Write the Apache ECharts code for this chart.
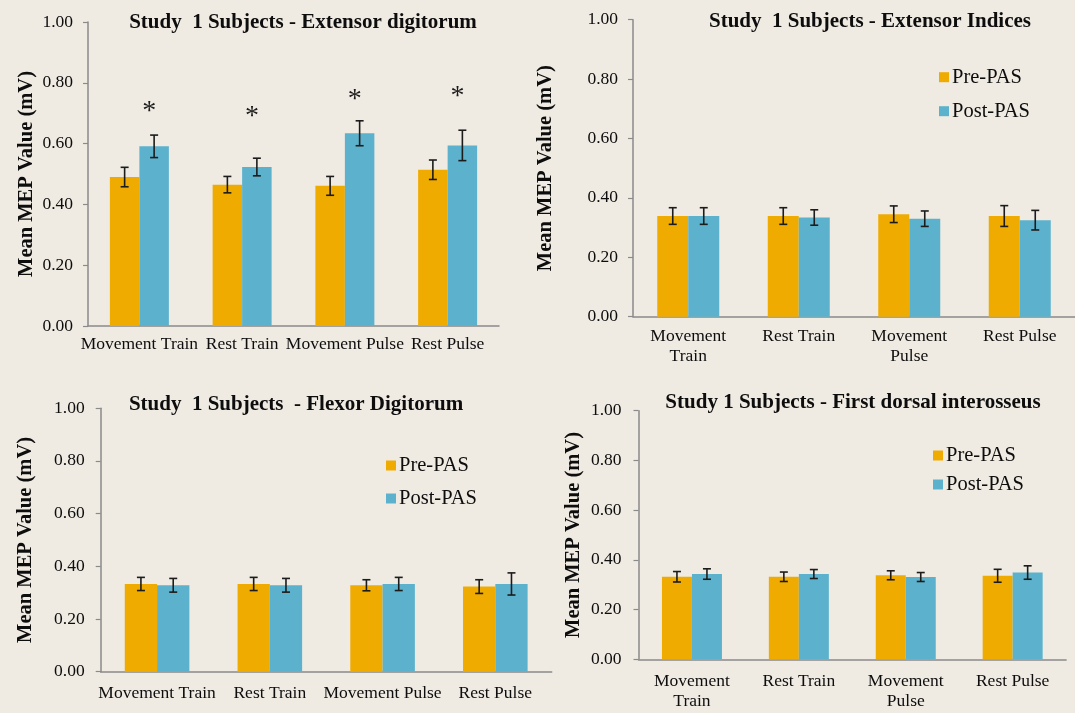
<!DOCTYPE html>
<html>
<head>
<meta charset="utf-8">
<title>Study 1 Subjects - Mean MEP Values</title>
<script src="https://cdn.jsdelivr.net/npm/echarts@6/dist/echarts.min.js"></script>
<style>
  html, body { margin: 0; padding: 0; background: #efebe3; }
  #chart { width: 1075px; height: 713px; }
</style>
</head>
<body>
<div id="chart"></div>
<script>
// Conditions (x-axis categories)
const categories = ['Movement Train', 'Rest Train', 'Movement Pulse', 'Rest Pulse'];
const categoriesWrapped = ['Movement\nTrain', 'Rest Train', 'Movement\nPulse', 'Rest Pulse'];

// Y-axis ticks (mV)
const yMin = 0, yMax = 1, yStep = 0.2;

// Extensor digitorum
const edPre      = [0.490, 0.465, 0.461, 0.514];
const edPreErr   = [0.032, 0.027, 0.031, 0.032];
const edPost     = [0.591, 0.523, 0.634, 0.594];
const edPostErr  = [0.037, 0.029, 0.041, 0.050];
// level (mV) of the significance asterisks above each pair
const edSigLevel = [0.722, 0.704, 0.761, 0.772];

// Extensor indices
const eiPre     = [0.339, 0.339, 0.345, 0.339];
const eiPreErr  = [0.028, 0.028, 0.028, 0.035];
const eiPost    = [0.339, 0.334, 0.330, 0.325];
const eiPostErr = [0.028, 0.026, 0.026, 0.033];

// Flexor digitorum
const fdPre     = [0.333, 0.333, 0.328, 0.323];
const fdPreErr  = [0.025, 0.025, 0.021, 0.026];
const fdPost    = [0.328, 0.328, 0.333, 0.333];
const fdPostErr = [0.026, 0.026, 0.025, 0.042];

// First dorsal interosseus
const fdiPre     = [0.332, 0.332, 0.338, 0.336];
const fdiPreErr  = [0.021, 0.019, 0.018, 0.026];
const fdiPost    = [0.343, 0.343, 0.331, 0.349];
const fdiPostErr = [0.021, 0.018, 0.018, 0.027];

const PRE_COLOR = '#f0ab00';
const POST_COLOR = '#5cb2cc';
const AXIS_COLOR = '#8a8a8a';
const TEXT_COLOR = '#0d0d0d';
const FONT = "'Liberation Serif', 'Times New Roman', serif";

const panels = [
  { title: 'Study  1 Subjects - Extensor digitorum', cats: categories,
    pre: edPre, preErr: edPreErr, post: edPost, postErr: edPostErr,
    grid: { left: 88, top: 22, width: 411, height: 304 }, barW: 29.5,
    titlePos: [303, 11], nameGap: 51, labelMargin: 8, tickMargin: 15, legend: null },
  { title: 'Study  1 Subjects - Extensor Indices', cats: categoriesWrapped,
    pre: eiPre, preErr: eiPreErr, post: eiPost, postErr: eiPostErr,
    grid: { left: 633, top: 19.7, width: 446, height: 297 }, barW: 31,
    titlePos: [870, 10], nameGap: 77, labelMargin: 10, tickMargin: 15,
    legend: { left: 939, top: 66.7, gap: 13 } },
  { title: 'Study  1 Subjects  - Flexor Digitorum', cats: categories,
    pre: fdPre, preErr: fdPreErr, post: fdPost, postErr: fdPostErr,
    grid: { left: 100.7, top: 408.2, width: 451, height: 263.5 }, barW: 32.3,
    titlePos: [296, 393], nameGap: 64, labelMargin: 12, tickMargin: 16,
    legend: { left: 386, top: 455, gap: 12 } },
  { title: 'Study 1 Subjects - First dorsal interosseus', cats: categoriesWrapped,
    pre: fdiPre, preErr: fdiPreErr, post: fdiPost, postErr: fdiPostErr,
    grid: { left: 638.5, top: 410.7, width: 427.6, height: 248.6 }, barW: 30,
    titlePos: [853, 391], nameGap: 54, labelMargin: 12, tickMargin: 17,
    legend: { left: 933, top: 445, gap: 8 } }
];

// Whiskers centred on one bar of each pair (side -1: left bar, +1: right bar)
function errorBarRenderer(side, barW) {
  return function (params, api) {
    const i = api.value(0), v = api.value(1), e = api.value(2);
    const hi = api.coord([i, v + e]);
    const lo = api.coord([i, v - e]);
    const x = hi[0] + side * barW / 2;
    const cap = 4;
    const style = { stroke: '#1c1c1c', lineWidth: 1.6 };
    return {
      type: 'group',
      children: [
        { type: 'line', shape: { x1: x, y1: hi[1], x2: x, y2: lo[1] }, style },
        { type: 'line', shape: { x1: x - cap, y1: hi[1], x2: x + cap, y2: hi[1] }, style },
        { type: 'line', shape: { x1: x - cap, y1: lo[1], x2: x + cap, y2: lo[1] }, style }
      ]
    };
  };
}

function asteriskRenderer(barW) {
  return function (params, api) {
    const p = api.coord([api.value(0), api.value(1)]);
    return {
      type: 'text',
      x: p[0] + barW / 2 - 5,
      y: p[1] + 5,
      style: { text: '*', font: '28px ' + FONT, fill: '#1c1c1c', align: 'center', verticalAlign: 'middle' }
    };
  };
}

const grid = [], xAxis = [], yAxis = [], series = [], title = [], legend = [];

panels.forEach((p, k) => {
  grid.push(Object.assign({ containLabel: false }, p.grid));
  title.push({
    text: p.title, left: p.titlePos[0], top: p.titlePos[1], textAlign: 'center', padding: 0,
    textStyle: { fontFamily: FONT, fontSize: 21, fontWeight: 'bold', color: TEXT_COLOR, lineHeight: 23 }
  });
  xAxis.push({
    type: 'category', gridIndex: k, data: p.cats,
    axisLine: { lineStyle: { color: AXIS_COLOR, width: 1.5 } },
    axisTick: { show: false },
    axisLabel: { interval: 0, margin: p.labelMargin, fontFamily: FONT, fontSize: 17.5, color: TEXT_COLOR, lineHeight: 20 }
  });
  yAxis.push({
    type: 'value', gridIndex: k, min: yMin, max: yMax, interval: yStep,
    name: 'Mean MEP Value (mV)', nameLocation: 'middle', nameGap: p.nameGap,
    nameTextStyle: { fontFamily: FONT, fontSize: 20.5, fontWeight: 'bold', color: TEXT_COLOR },
    axisLine: { show: true, lineStyle: { color: AXIS_COLOR, width: 1.5 } },
    axisTick: { show: true, length: 5, lineStyle: { color: AXIS_COLOR, width: 1.2 } },
    splitLine: { show: false },
    axisLabel: { margin: p.tickMargin, fontFamily: FONT, fontSize: 17.5, color: TEXT_COLOR,
      formatter: v => v.toFixed(2) }
  });
  series.push(
    { name: 'Pre-PAS', type: 'bar', xAxisIndex: k, yAxisIndex: k, data: p.pre,
      barWidth: p.barW, barGap: '0%', itemStyle: { color: PRE_COLOR }, silent: true },
    { name: 'Post-PAS', type: 'bar', xAxisIndex: k, yAxisIndex: k, data: p.post,
      barWidth: p.barW, barGap: '0%', itemStyle: { color: POST_COLOR }, silent: true },
    { type: 'custom', xAxisIndex: k, yAxisIndex: k, z: 5, silent: true,
      renderItem: errorBarRenderer(-1, p.barW),
      data: p.pre.map((v, i) => [i, v, p.preErr[i]]) },
    { type: 'custom', xAxisIndex: k, yAxisIndex: k, z: 5, silent: true,
      renderItem: errorBarRenderer(1, p.barW),
      data: p.post.map((v, i) => [i, v, p.postErr[i]]) }
  );
  if (p.legend) {
    legend.push({
      data: ['Pre-PAS', 'Post-PAS'], orient: 'vertical', left: p.legend.left, top: p.legend.top,
      padding: 0, itemGap: p.legend.gap, itemWidth: 10, itemHeight: 10, icon: 'rect',
      selectedMode: false,
      textStyle: { fontFamily: FONT, fontSize: 20.5, color: TEXT_COLOR, lineHeight: 20, padding: [0, 0, 0, -2] }
    });
  }
});

// Significance markers over the extensor digitorum pairs
series.push({
  type: 'custom', xAxisIndex: 0, yAxisIndex: 0, z: 6, silent: true,
  renderItem: asteriskRenderer(panels[0].barW),
  data: edSigLevel.map((v, i) => [i, v])
});

const chart = echarts.init(document.getElementById('chart'), null, { renderer: 'canvas' });
chart.setOption({
  backgroundColor: '#efebe3',
  animation: false,
  title, legend, grid, xAxis, yAxis, series
});
</script>
</body>
</html>
